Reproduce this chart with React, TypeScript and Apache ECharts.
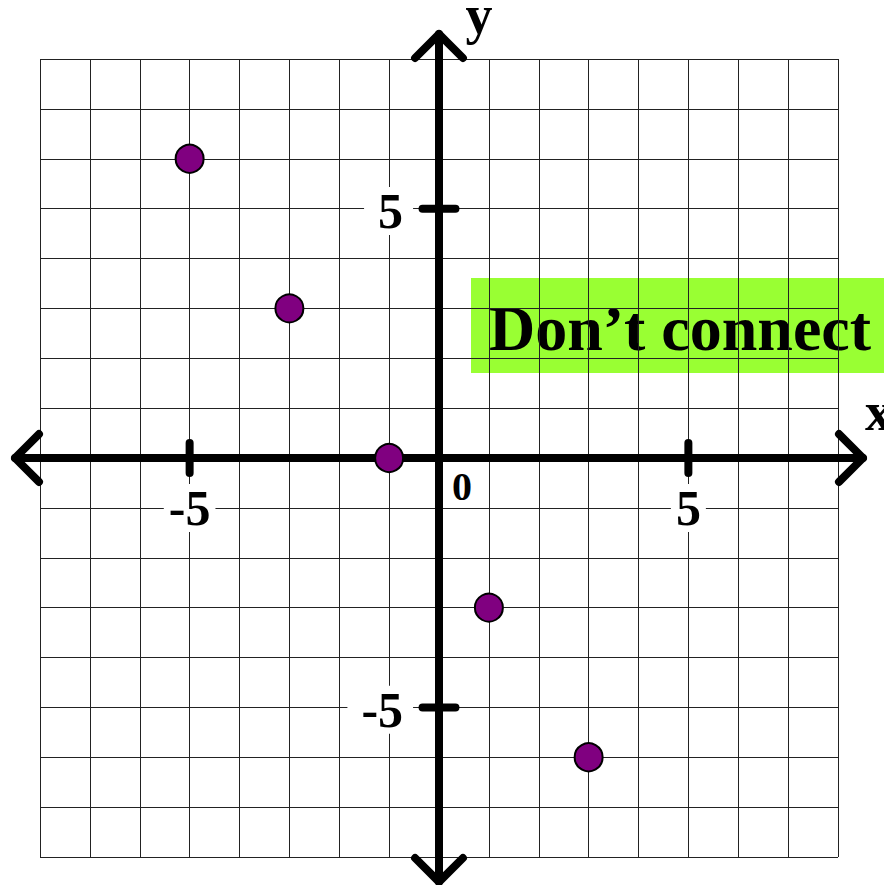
import React, { useEffect, useRef } from "react";
import * as echarts from "echarts";

const X_MIN = -8;
const X_MAX = 8;
const Y_MIN = -8;
const Y_MAX = 8;
const AXIS_EXTENT = 8.5;

const pointsX = [-5, -3, -1, 1, 3];
const pointsY = [6, 3, 0, -3, -6];

const xTickValues = [-5, 5];
const xTickLabels = ["-5", "5"];
const yTickValues = [-5, 5];
const yTickLabels = ["-5", "5"];
const originLabel = "0";
const xAxisName = "x";
const yAxisName = "y";
const noteText = "Don\u2019t connect";

const SERIF = '"Liberation Serif", "Times New Roman", serif';

export default function App() {
  const ref = useRef<HTMLDivElement>(null);

  useEffect(() => {
    document.body.style.margin = "0";
    if (!ref.current) return;
    const chart = echarts.init(ref.current, null, { renderer: "svg" });

    const renderAxes = (params: any, api: any) => {
      const c = (x: number, y: number) => api.coord([x, y]);
      const unit = api.size([1, 1]);
      const ux = unit[0];
      const uy = unit[1];
      const L = c(-AXIS_EXTENT, 0);
      const R = c(AXIS_EXTENT, 0);
      const T = c(0, AXIS_EXTENT);
      const B = c(0, -AXIS_EXTENT);
      const s = 0.48 * ux;
      const lw = 8;
      const lineStyle = { stroke: "#000", lineWidth: lw, lineCap: "round", lineJoin: "round", fill: null };
      const children: any[] = [];
      children.push({ type: "line", shape: { x1: L[0], y1: L[1], x2: R[0], y2: R[1] }, style: lineStyle });
      children.push({ type: "line", shape: { x1: T[0], y1: T[1], x2: B[0], y2: B[1] }, style: lineStyle });
      children.push({ type: "polyline", shape: { points: [[L[0] + s, L[1] - s], [L[0], L[1]], [L[0] + s, L[1] + s]] }, style: lineStyle });
      children.push({ type: "polyline", shape: { points: [[R[0] - s, R[1] - s], [R[0], R[1]], [R[0] - s, R[1] + s]] }, style: lineStyle });
      children.push({ type: "polyline", shape: { points: [[T[0] - s, T[1] + s], [T[0], T[1]], [T[0] + s, T[1] + s]] }, style: lineStyle });
      children.push({ type: "polyline", shape: { points: [[B[0] - s, B[1] - s], [B[0], B[1]], [B[0] + s, B[1] - s]] }, style: lineStyle });

      xTickValues.forEach((v, i) => {
        const p = c(v, 0);
        children.push({ type: "line", shape: { x1: p[0], y1: p[1] - 0.3 * uy, x2: p[0], y2: p[1] + 0.3 * uy }, style: lineStyle });
        const lp = c(v, -1.0);
        children.push({
          type: "text",
          x: lp[0],
          y: lp[1],
          style: {
            text: xTickLabels[i],
            fontFamily: SERIF,
            fontWeight: "bold",
            fontSize: 50,
            lineHeight: 48,
            fill: "#000",
            align: "center",
            verticalAlign: "middle",
            backgroundColor: "#fff",
            padding: [0, 5],
          },
        });
      });
      yTickValues.forEach((v, i) => {
        const p = c(0, v);
        children.push({ type: "line", shape: { x1: p[0] - 0.33 * ux, y1: p[1], x2: p[0] + 0.33 * ux, y2: p[1] }, style: lineStyle });
        const lp = c(-0.52, v - 0.05);
        children.push({
          type: "text",
          x: lp[0],
          y: lp[1],
          style: {
            text: yTickLabels[i],
            fontFamily: SERIF,
            fontWeight: "bold",
            fontSize: 50,
            lineHeight: 48,
            fill: "#000",
            align: "right",
            verticalAlign: "middle",
            backgroundColor: "#fff",
            padding: [0, 10, 0, 14],
          },
        });
      });
      const op = c(0.46, -0.57);
      children.push({
        type: "text",
        x: op[0],
        y: op[1],
        style: { text: originLabel, fontFamily: SERIF, fontWeight: "bold", fontSize: 40, fill: "#000", align: "center", verticalAlign: "middle" },
      });
      const xp = c(8.54, 0.92);
      children.push({
        type: "text",
        x: xp[0],
        y: xp[1],
        style: { text: xAxisName, fontFamily: SERIF, fontWeight: "bold", fontSize: 54, fill: "#000", align: "left", verticalAlign: "middle" },
      });
      const yp = c(0.8, 8.88);
      children.push({
        type: "text",
        x: yp[0],
        y: yp[1],
        style: { text: yAxisName, fontFamily: SERIF, fontWeight: "bold", fontSize: 54, fill: "#000", align: "center", verticalAlign: "middle" },
      });
      return { type: "group", children };
    };

    chart.setOption({
      animation: false,
      backgroundColor: "#fff",
      grid: { left: 40, top: 59, width: 798, height: 798, containLabel: false },
      xAxis: {
        type: "value",
        min: X_MIN,
        max: X_MAX,
        interval: 1,
        axisLine: { show: false },
        axisTick: { show: false },
        axisLabel: { show: false },
        splitLine: { show: true, lineStyle: { color: "#222", width: 1 } },
      },
      yAxis: {
        type: "value",
        min: Y_MIN,
        max: Y_MAX,
        interval: 1,
        axisLine: { show: false },
        axisTick: { show: false },
        axisLabel: { show: false },
        splitLine: { show: true, lineStyle: { color: "#222", width: 1 } },
      },
      series: [
        {
          type: "custom",
          renderItem: renderAxes,
          data: [[0, 0]],
          clip: false,
          silent: true,
          z: 5,
        },
        {
          type: "scatter",
          data: pointsX.map((x, i) => [x, pointsY[i]]),
          symbol: "circle",
          symbolSize: 28,
          itemStyle: { color: "#800080", borderColor: "#000", borderWidth: 2, opacity: 1 },
          z: 10,
        },
      ],
      graphic: [
        {
          type: "group",
          left: 471,
          top: 278,
          z: 100,
          children: [
            { type: "rect", shape: { x: 0, y: 0, width: 413, height: 95 }, style: { fill: "#99FF33" } },
            {
              type: "text",
              x: 209,
              y: 50,
              style: {
                text: noteText,
                fontFamily: SERIF,
                fontWeight: "bold",
                fontSize: 64,
                fill: "#000",
                align: "center",
                verticalAlign: "middle",
              },
            },
          ],
        },
      ],
    });

    return () => chart.dispose();
  }, []);

  return <div ref={ref} style={{ width: 884, height: 885 }} />;
}
